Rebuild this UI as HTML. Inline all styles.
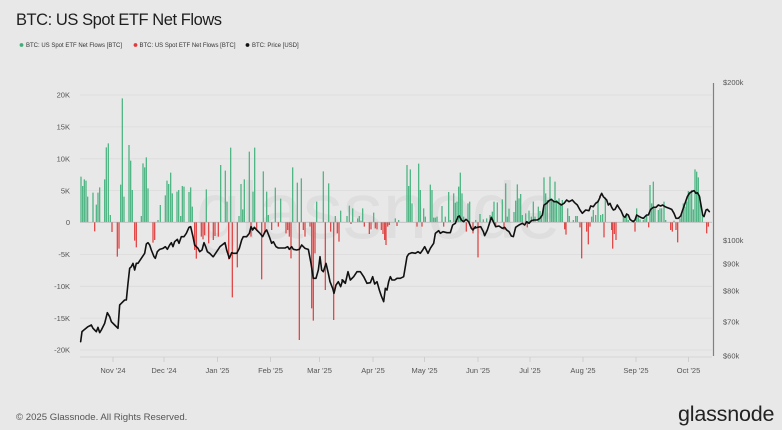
<!DOCTYPE html>
<html><head><meta charset="utf-8">
<style>
html,body{margin:0;padding:0;background:#e8e8e8;}
svg{display:block;}
text{font-family:"Liberation Sans",Arial,sans-serif;}
</style></head>
<body>
<svg width="782" height="430" viewBox="0 0 782 430" xmlns="http://www.w3.org/2000/svg">
<rect width="782" height="430" fill="#e8e8e8"/>
<text x="16" y="25" font-size="16.5" letter-spacing="-0.45" fill="#1e1e1e">BTC: US Spot ETF Net Flows</text>
<!-- legend -->
<circle cx="21.5" cy="45" r="1.9" fill="#3fae7a"/>
<text x="26" y="47.2" font-size="6" fill="#333">BTC: US Spot ETF Net Flows [BTC]</text>
<circle cx="135.5" cy="45" r="1.9" fill="#e03a3a"/>
<text x="139.5" y="47.2" font-size="6" fill="#333">BTC: US Spot ETF Net Flows [BTC]</text>
<circle cx="247.5" cy="45" r="1.9" fill="#111"/>
<text x="252" y="47.2" font-size="6" fill="#333">BTC: Price [USD]</text>

<!-- watermark -->
<text x="196" y="238" font-size="80" fill="#000" fill-opacity="0.045">glassnode</text>

<!-- gridlines -->
<g stroke="#dbdbdb" stroke-width="0.8">
<line x1="80" x2="712" y1="95" y2="95"/>
<line x1="80" x2="712" y1="126.9" y2="126.9"/>
<line x1="80" x2="712" y1="158.8" y2="158.8"/>
<line x1="80" x2="712" y1="190.6" y2="190.6"/>
<line x1="80" x2="712" y1="254.4" y2="254.4"/>
<line x1="80" x2="712" y1="286.3" y2="286.3"/>
<line x1="80" x2="712" y1="318.1" y2="318.1"/>
<line x1="80" x2="712" y1="350" y2="350"/>
</g>
<line x1="80" x2="712" y1="357" y2="357" stroke="#d0d0d0" stroke-width="0.8"/>
<g stroke="#c8c8c8" stroke-width="0.8">
<line x1="113" x2="113" y1="357" y2="362"/>
<line x1="164" x2="164" y1="357" y2="362"/>
<line x1="217.5" x2="217.5" y1="357" y2="362"/>
<line x1="270.5" x2="270.5" y1="357" y2="362"/>
<line x1="319.5" x2="319.5" y1="357" y2="362"/>
<line x1="373" x2="373" y1="357" y2="362"/>
<line x1="424.5" x2="424.5" y1="357" y2="362"/>
<line x1="478" x2="478" y1="357" y2="362"/>
<line x1="530" x2="530" y1="357" y2="362"/>
<line x1="583" x2="583" y1="357" y2="362"/>
<line x1="636" x2="636" y1="357" y2="362"/>
<line x1="688.5" x2="688.5" y1="357" y2="362"/>
</g>

<!-- left labels -->
<g font-size="7.5" fill="#555" text-anchor="end">
<text x="70" y="97.7">20K</text>
<text x="70" y="129.6">15K</text>
<text x="70" y="161.5">10K</text>
<text x="70" y="193.3">5K</text>
<text x="70" y="225.2">0</text>
<text x="70" y="257.1">-5K</text>
<text x="70" y="289">-10K</text>
<text x="70" y="320.8">-15K</text>
<text x="70" y="352.7">-20K</text>
</g>
<!-- right labels -->
<g font-size="7.5" fill="#555">
<text x="723" y="85">$200k</text>
<text x="723" y="243">$100k</text>
<text x="723" y="266.7">$90k</text>
<text x="723" y="293.4">$80k</text>
<text x="723" y="324.4">$70k</text>
<text x="723" y="358.7">$60k</text>
</g>
<line x1="713.5" x2="713.5" y1="83" y2="356" stroke="#808080" stroke-width="1.2"/>
<!-- x labels -->
<g font-size="7.5" fill="#555" text-anchor="middle">
<text x="113" y="373">Nov '24</text>
<text x="164" y="373">Dec '24</text>
<text x="217.5" y="373">Jan '25</text>
<text x="270.5" y="373">Feb '25</text>
<text x="319.5" y="373">Mar '25</text>
<text x="373" y="373">Apr '25</text>
<text x="424.5" y="373">May '25</text>
<text x="478" y="373">Jun '25</text>
<text x="530" y="373">Jul '25</text>
<text x="583" y="373">Aug '25</text>
<text x="636" y="373">Sep '25</text>
<text x="688.5" y="373">Oct '25</text>
</g>

<!-- bars region 1 -->
<g transform="translate(78,90) scale(0.33333)" stroke-width="3.9" fill="none">
<path stroke="#4fb584" d="M9 396V260M14 396V288M19 396V268M24 396V272M29 396V320M45 396V308M55 396V344M60 396V308M65 396V292M80 396V268M85 396V172M91 396V160M97 396V375M128 396V284M133 396V25M138 396V320M153 396V165M158 396V212M163 396V300M190 396V378M195 396V220M200 396V232M205 396V202M210 396V295M240 396V390M247 396V345M262 396V316M267 396V272M272 396V282M278 396V248M283 396V310M297 396V305M302 396V300M308 396V378M313 396V288M318 396V290M333 396V306M338 396V292M343 396V350M385 396V298"/>
<path stroke="#e04848" d="M50 396V424M102 396V426M118 396V500M123 396V476M170 396V452M175 396V472M225 396V458M230 396V450M350 396V480M355 396V506M370 396V440M375 396V448M380 396V436M392 396V460"/>
</g>
<!-- bars region 2 -->
<g transform="translate(210,90) scale(0.33333)" stroke-width="3.9" fill="none">
<path stroke="#4fb584" d="M32 396V225M46 396V242M51 396V335M62 396V173M87 396V378M93 396V282M98 396V358M103 396V268M118 396V185M129 396V305M134 396V173M160 396V244M170 396V305M175 396V375M196 396V293M212 396V326M248 396V232M262 396V278M274 396V265M320 396V335M340 396V244M356 396V280M376 396V378M392 396V362"/>
<path stroke="#e04848" d="M10 396V450M15 396V438M25 396V440M56 396V508M67 396V622M82 396V532M123 396V440M140 396V420M155 396V568M165 396V430M185 396V420M205 396V410M228 396V430M233 396V420M238 396V440M243 396V505M268 396V750M280 396V420M285 396V440M300 396V410M305 396V655M310 396V692M315 396V490M346 396V600M362 396V425M371 396V690M382 396V430M387 396V455"/>
</g>
<!-- bars region 3 -->
<g transform="translate(342,90) scale(0.33333)" stroke-width="3.9" fill="none">
<path stroke="#4fb584" d="M15 396V378M22 396V347M32 396V355M47 396V385M52 396V378M57 396V392M62 396V355M95 396V368M160 396V385M170 396V390M195 396V225M200 396V288M205 396V238M210 396V340M230 396V221M235 396V300M245 396V355M250 396V380M265 396V284M270 396V300M275 396V383M280 396V383M285 396V380M300 396V348M310 396V380M320 396V306M325 396V390M335 396V310M340 396V338M345 396V335M350 396V290M355 396V248M360 396V310M365 396V380M378 396V340M383 396V335"/>
<path stroke="#e04848" d="M27 396V402M67 396V410M82 396V432M87 396V418M100 396V415M105 396V418M118 396V420M123 396V432M128 396V450M132 396V465M137 396V410M142 396V405M165 396V408M225 396V410M240 396V410M305 396V410M373 396V425M393 396V430"/>
</g>
<!-- bars region 4 -->
<g transform="translate(474,90) scale(0.33333)" stroke-width="3.9" fill="none">
<path stroke="#4fb584" d="M5 396V390M18 396V372M28 396V388M38 396V385M48 396V375M55 396V365M60 396V335M70 396V337M85 396V328M95 396V280M100 396V380M105 396V356M120 396V366M125 396V332M130 396V283M135 396V325M140 396V312M145 396V375M155 396V370M165 396V362M172 396V380M178 396V335M183 396V380M193 396V350M198 396V363M203 396V380M210 396V262M215 396V310M220 396V330M228 396V260M233 396V326M238 396V330M243 396V275M248 396V330M255 396V325M260 396V340M265 396V330M281 396V355M286 396V378M298 396V390M305 396V378M310 396V378M353 396V380M358 396V360M365 396V375M372 396V330"/>
<path stroke="#e04848" d="M12 396V502M65 396V410M90 396V420M160 396V412M272 396V418M276 396V434M318 396V412M323 396V505M338 396V425M343 396V463M348 396V410"/>
</g>
<!-- bars region 5 -->
<g transform="translate(600,90) scale(0.33333)" stroke-width="3.9" fill="none">
<path stroke="#4fb584" d="M2 396V375M8 396V372M16 396V322M70 396V380M75 396V380M80 396V375M85 396V390M100 396V390M110 396V355M115 396V378M120 396V388M130 396V390M135 396V385M140 396V375M150 396V285M155 396V340M160 396V275M165 396V355M175 396V360M180 396V355M185 396V355M192 396V335M197 396V390M222 396V392M240 396V385M245 396V372M250 396V340M255 396V350M260 396V335M265 396V303M270 396V305M275 396V300M280 396V358M285 396V238M290 396V245M295 396V262M300 396V320M307 396V370"/>
<path stroke="#e04848" d="M12 396V442M35 396V420M38 396V476M43 396V432M48 396V450M105 396V425M146 396V412M212 396V420M217 396V425M228 396V420M233 396V457M320 396V430M325 396V410"/>
</g>

<!-- zero line -->
<line x1="80" x2="712" y1="222.2" y2="222.2" stroke="#a8a8a8" stroke-width="0.7"/>

<!-- price line -->
<g fill="none" stroke="#111" stroke-width="1.6" stroke-linejoin="round" stroke-linecap="round">
<polyline vector-effect="non-scaling-stroke" transform="translate(78,90) scale(0.33333)" points="8,755 12,725 20,718 30,710 40,705 45,715 50,720 55,725 60,712 65,728 70,720 80,700 88,668 95,680 100,695 110,705 120,715 125,645 130,640 140,630 145,630 150,580 155,535 160,530 165,520 170,540 175,520 180,520 190,505 200,490 205,462 210,458 215,465 220,480 228,500 232,505 238,485 245,478 255,475 262,470 268,478 275,465 280,458 285,470 290,455 298,448 303,460 310,440 318,440 325,430 333,412 338,410 345,440 350,465 360,475 365,485 372,480 378,458 383,470 388,485 395,490 405,500"/>
<polyline vector-effect="non-scaling-stroke" transform="translate(210,90) scale(0.33333)" points="10,500 20,485 30,470 40,462 45,458 50,480 58,505 65,488 70,490 80,490 88,475 95,450 100,440 110,440 118,430 123,410 128,420 133,412 140,420 150,430 158,440 165,425 170,420 178,440 185,460 190,455 198,470 205,474 215,474 225,474 233,470 238,478 245,470 250,478 260,480 268,478 275,465 285,475 295,478 303,520 310,565 318,565 325,540 330,500 335,540 340,545 348,520 355,550 360,575 368,595 372,610 378,585 385,575 392,590 398,570 405,578"/>
<polyline vector-effect="non-scaling-stroke" transform="translate(342,90) scale(0.33333)" points="0,570 10,580 18,545 25,570 35,560 45,545 55,545 65,560 75,580 85,578 92,560 98,582 105,575 112,600 118,618 125,635 130,595 135,600 140,575 145,560 150,570 158,570 165,565 175,565 185,560 195,500 200,492 210,488 220,490 228,485 235,490 242,480 248,470 258,490 265,475 275,460 280,430 290,422 295,430 303,425 315,428 325,428 332,405 340,400 348,380 352,378 358,390 365,395 372,388 380,395 388,415 393,420 400,410"/>
<polyline vector-effect="non-scaling-stroke" transform="translate(474,90) scale(0.33333)" points="0,415 10,412 20,410 28,425 32,437 40,420 48,395 52,382 58,395 65,410 75,408 85,415 92,412 98,420 105,425 112,438 118,440 125,412 135,405 145,400 152,405 158,395 165,400 172,392 180,390 190,390 198,385 205,375 210,345 218,340 225,332 232,328 240,335 248,335 255,340 262,345 270,340 278,330 285,335 295,330 302,338 310,345 318,360 325,370 335,360 345,362 350,348 358,350 365,340 372,335 378,322"/>
<polyline vector-effect="non-scaling-stroke" transform="translate(600,90) scale(0.33333)" points="0,320 5,310 10,320 15,325 20,330 25,345 30,340 35,352 40,360 45,358 52,345 58,355 63,362 70,378 75,382 80,372 85,375 90,388 95,392 100,395 105,390 110,375 115,378 122,382 130,385 135,380 140,375 145,375 152,358 160,352 168,352 175,345 182,348 188,345 195,350 200,352 208,355 215,358 222,370 228,385 235,385 242,378 248,360 255,340 262,320 268,310 275,305 282,302 288,310 292,308 298,318 303,345 308,375 312,380 318,360 322,358 328,365"/>
</g>

<!-- footer -->
<text x="16" y="420" font-size="9.6" fill="#555">© 2025 Glassnode. All Rights Reserved.</text>
<text x="678" y="421" font-size="21.5" fill="#222" letter-spacing="-0.2">glassnode</text>
</svg>
</body></html>
